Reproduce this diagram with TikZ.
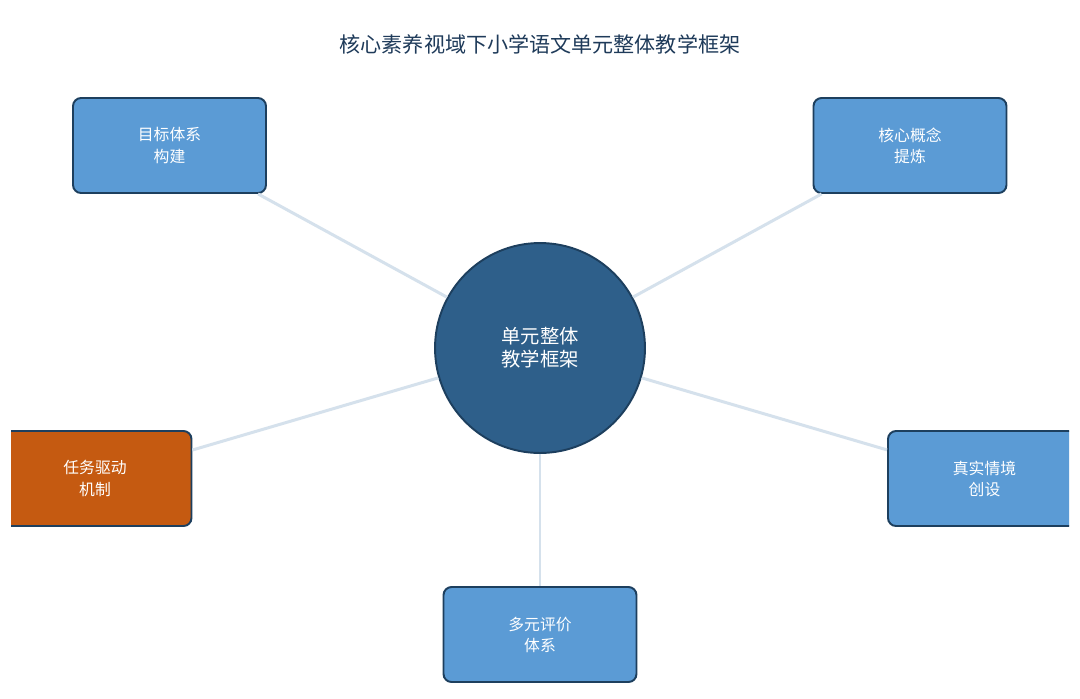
\documentclass[tikz,border=0pt]{standalone}
\usepackage{fontspec}
\newfontfamily\cjk{Noto Sans CJK SC}
\usepackage{xcolor}
\usetikzlibrary{
    shapes,
    positioning,
    calc
}
\definecolor{hubblue}{HTML}{2E5F8A}
\definecolor{edgeblue}{HTML}{1D3F5E}
\definecolor{boxblue}{HTML}{5B9BD5}
\definecolor{taskorange}{HTML}{C55A11}
\definecolor{linkgray}{HTML}{D5E1EC}
\definecolor{titleblue}{HTML}{1F3B5A}
\tikzset{%
    % Specifications for style of nodes:
    plain/.style = {},
    base/.style = {
        plain,
        rectangle, rounded corners=0.16cm, draw=edgeblue, line width=1.1pt,
        minimum width=3.86cm, minimum height=1.9cm,
        text centered, font=\cjk\fontsize{9}{12}\selectfont,
        text=white, fill=boxblue, align=center
    },
    hub/.style = {base, circle, minimum size=4.2cm, fill=hubblue,
        font=\cjk\fontsize{11}{13}\selectfont},
    hot/.style = {base, fill=taskorange},
    link/.style = {draw=linkgray, line width=1.7pt}
}

\begin{document}
\begin{tikzpicture}[x=0.02cm, y=-0.02cm]
    \useasboundingbox[fill=white] (0,0) rectangle (1080,698);
    \node[font=\cjk\fontsize{12}{14}\selectfont, text=titleblue] (title) at (540,44) {核心素养视域下小学语文单元整体教学框架};
    \begin{scope}
        \clip (11,0) rectangle (1069,698);
        \node[hub] (center) at (540,348) {单元整体\\教学框架};
        \node[base] (goal) at (169.5,145.5) {目标体系\\构建};
        \node[base] (concept) at (910,145.5) {核心概念\\提炼};
        \node[hot] (task) at (95,478.5) {任务驱动\\机制};
        \node[base] (context) at (984.5,478.5) {真实情境\\创设};
        \node[base] (eval) at (540,634.5) {多元评价\\体系};
        \foreach \n in {goal, concept, task, context, eval}
            \draw[link] (center) -- (\n);
    \end{scope}
\end{tikzpicture}
\end{document}
